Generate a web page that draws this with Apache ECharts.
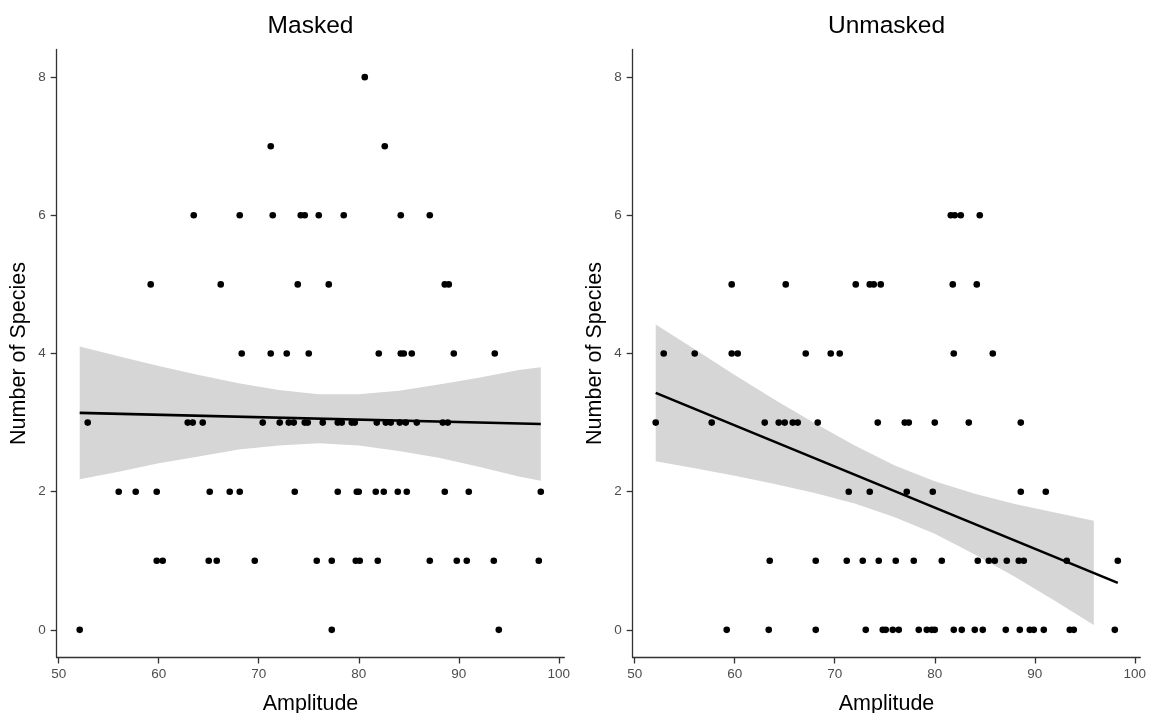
<!DOCTYPE html>
<html>
<head>
<meta charset="utf-8">
<script src="https://cdn.jsdelivr.net/npm/echarts@6/dist/echarts.min.js"></script>
<style>html,body{margin:0;padding:0;background:#fff}#c{width:1158px;height:713px}</style>
</head>
<body>
<div id="c"></div>
<script>
// ---- data ----
const panelTitles = ['Masked', 'Unmasked'];
const xTicks = [50, 60, 70, 80, 90, 100];
const yTicks = [0, 2, 4, 6, 8];

const maskedAmplitude = [
  80.6,
  71.2, 82.6,
  63.5, 68.1, 71.4, 74.2, 74.6, 76.0, 78.5, 84.2, 87.1,
  59.2, 66.2, 73.9, 77.0, 88.6, 89.0,
  68.3, 71.2, 72.8, 75.0, 82.0, 84.2, 84.5, 85.3, 89.5, 93.6,
  52.9, 62.9, 63.4, 64.4, 70.4, 72.1, 73.0, 73.5, 74.6, 74.9, 76.4, 77.9, 78.3, 79.3, 79.6, 81.8, 82.7, 83.2, 84.1, 84.7, 85.8, 88.4, 88.9,
  56.0, 57.7, 59.8, 65.1, 67.1, 68.1, 73.6, 77.9, 79.8, 80.0, 81.7, 82.5, 83.9, 84.8, 88.6, 91.0, 98.2,
  59.8, 60.4, 65.0, 65.8, 69.6, 75.8, 77.3, 79.7, 80.1, 81.9, 87.1, 89.8, 90.8, 93.5, 98.0,
  52.1, 77.3, 94.0
];
const maskedSpecies = [
  8,
  7, 7,
  6, 6, 6, 6, 6, 6, 6, 6, 6,
  5, 5, 5, 5, 5, 5,
  4, 4, 4, 4, 4, 4, 4, 4, 4, 4,
  3, 3, 3, 3, 3, 3, 3, 3, 3, 3, 3, 3, 3, 3, 3, 3, 3, 3, 3, 3, 3, 3, 3,
  2, 2, 2, 2, 2, 2, 2, 2, 2, 2, 2, 2, 2, 2, 2, 2, 2,
  1, 1, 1, 1, 1, 1, 1, 1, 1, 1, 1, 1, 1, 1, 1,
  0, 0, 0
];

const unmaskedAmplitude = [
  81.6, 82.0, 82.6, 84.5,
  59.7, 65.1, 72.1, 73.5, 73.9, 74.6, 81.8, 84.2,
  52.9, 56.0, 59.7, 60.3, 67.1, 69.6, 70.5, 81.9, 85.8,
  52.1, 57.7, 63.0, 64.4, 65.0, 65.8, 66.3, 68.3, 74.3, 77.0, 77.4, 80.0, 83.4, 88.6,
  71.4, 73.5, 77.2, 79.8, 88.6, 91.1,
  63.5, 68.1, 71.2, 72.8, 74.4, 76.1, 77.9, 80.7, 84.3, 85.4, 86.0, 87.2, 88.4, 88.9, 93.2, 98.3,
  59.2, 63.4, 68.1, 73.1, 74.8, 75.1, 75.8, 76.4, 78.4, 79.2, 79.7, 80.0, 81.9, 82.7, 84.0, 84.8, 87.1, 88.5, 89.5, 89.9, 90.9, 93.5, 93.9, 98.0
];
const unmaskedSpecies = [
  6, 6, 6, 6,
  5, 5, 5, 5, 5, 5, 5, 5,
  4, 4, 4, 4, 4, 4, 4, 4, 4,
  3, 3, 3, 3, 3, 3, 3, 3, 3, 3, 3, 3, 3, 3,
  2, 2, 2, 2, 2, 2,
  1, 1, 1, 1, 1, 1, 1, 1, 1, 1, 1, 1, 1, 1, 1, 1,
  0, 0, 0, 0, 0, 0, 0, 0, 0, 0, 0, 0, 0, 0, 0, 0, 0, 0, 0, 0, 0, 0, 0, 0
];

// fitted line (end points) and confidence band
const maskedFitX = [52.1, 98.2];
const maskedFitY = [3.14, 2.98];
const maskedBandX = [52.1, 56, 60, 64, 68, 72, 76, 80, 84, 88, 92, 96, 98.2];
const maskedBandLow = [2.18, 2.29, 2.41, 2.51, 2.61, 2.67, 2.70, 2.67, 2.59, 2.49, 2.36, 2.22, 2.16];
const maskedBandHigh = [4.10, 3.96, 3.82, 3.69, 3.57, 3.47, 3.41, 3.41, 3.46, 3.55, 3.65, 3.76, 3.80];

const unmaskedFitX = [52.1, 98.3];
const unmaskedFitY = [3.43, 0.68];
const unmaskedBandX = [52.1, 56, 60, 64, 68, 72, 76, 80, 84, 88, 92, 95.9];
const unmaskedBandLow = [2.44, 2.34, 2.23, 2.11, 1.98, 1.83, 1.63, 1.39, 1.09, 0.77, 0.42, 0.07];
const unmaskedBandHigh = [4.42, 4.06, 3.69, 3.33, 2.99, 2.67, 2.38, 2.15, 1.97, 1.82, 1.70, 1.58];

const panels = [
  { title: panelTitles[0], xs: maskedAmplitude, ys: maskedSpecies, fx: maskedFitX, fy: maskedFitY,
    bx: maskedBandX, bl: maskedBandLow, bh: maskedBandHigh },
  { title: panelTitles[1], xs: unmaskedAmplitude, ys: unmaskedSpecies, fx: unmaskedFitX, fy: unmaskedFitY,
    bx: unmaskedBandX, bl: unmaskedBandLow, bh: unmaskedBandHigh }
];

const FONT = '"Liberation Sans", Arial, sans-serif';
const gridLefts = [56.7, 632.7];
const gridW = 507.6, gridTop = 49.5, gridH = 608;

const grids = [], xAxes = [], yAxes = [], series = [], graphics = [];
panels.forEach((p, i) => {
  grids.push({ left: gridLefts[i], top: gridTop, width: gridW, height: gridH, containLabel: false, outerBoundsMode: 'none' });
  xAxes.push({
    type: 'value', gridIndex: i, min: 49.8, max: 100.55,
    name: 'Amplitude', nameLocation: 'middle', nameGap: 36,
    nameTextStyle: { fontFamily: FONT, fontSize: 21.5, color: '#000' },
    axisLine: { show: true, onZero: false, lineStyle: { color: '#333', width: 1.3 } },
    axisTick: { show: true, length: 6, lineStyle: { color: '#333', width: 1.3 }, customValues: xTicks },
    axisLabel: { show: true, margin: 10, fontFamily: FONT, fontSize: 13.5, color: '#4D4D4D', customValues: xTicks },
    splitLine: { show: false }
  });
  yAxes.push({
    type: 'value', gridIndex: i, min: -0.4, max: 8.4,
    name: 'Number of Species', nameLocation: 'middle', nameGap: 27,
    nameTextStyle: { fontFamily: FONT, fontSize: 21.5, color: '#000' },
    axisLine: { show: true, onZero: false, lineStyle: { color: '#333', width: 1.3 } },
    axisTick: { show: true, length: 6, lineStyle: { color: '#333', width: 1.3 }, customValues: yTicks },
    axisLabel: { show: true, margin: 11, fontFamily: FONT, fontSize: 13.5, color: '#4D4D4D', customValues: yTicks },
    splitLine: { show: false }
  });
  const band = p.bx.map((x, k) => [x, p.bl[k], p.bh[k]]);
  series.push({
    type: 'custom', xAxisIndex: i, yAxisIndex: i, z: 1, silent: true,
    data: band,
    encode: { x: 0, y: [1, 2] },
    renderItem: function (params, api) {
      if (params.dataIndex !== 0) return null;
      const pts = [];
      for (let k = 0; k < band.length; k++) pts.push(api.coord([band[k][0], band[k][2]]));
      for (let k = band.length - 1; k >= 0; k--) pts.push(api.coord([band[k][0], band[k][1]]));
      return { type: 'polygon', shape: { points: pts }, style: { fill: '#D6D6D6', stroke: null } };
    }
  });
  series.push({
    type: 'scatter', xAxisIndex: i, yAxisIndex: i, z: 2,
    data: p.xs.map((x, k) => [x, p.ys[k]]),
    symbol: 'circle', symbolSize: 6.6,
    itemStyle: { color: '#000', opacity: 1 }
  });
  series.push({
    type: 'line', xAxisIndex: i, yAxisIndex: i, z: 3,
    data: p.fx.map((x, k) => [x, p.fy[k]]), showSymbol: false, symbol: 'none',
    lineStyle: { color: '#000', width: 2.6 }
  });
  graphics.push({
    type: 'text', x: gridLefts[i] + gridW / 2, y: 26,
    style: { text: p.title, fontFamily: FONT, fontSize: 24.5, fill: '#000', textAlign: 'center', textVerticalAlign: 'middle' }
  });
});

const chart = echarts.init(document.getElementById('c'), null, { renderer: 'canvas' });
chart.setOption({
  animation: false,
  backgroundColor: '#fff',
  grid: grids, xAxis: xAxes, yAxis: yAxes, series: series,
  graphic: graphics
});
</script>
</body>
</html>
